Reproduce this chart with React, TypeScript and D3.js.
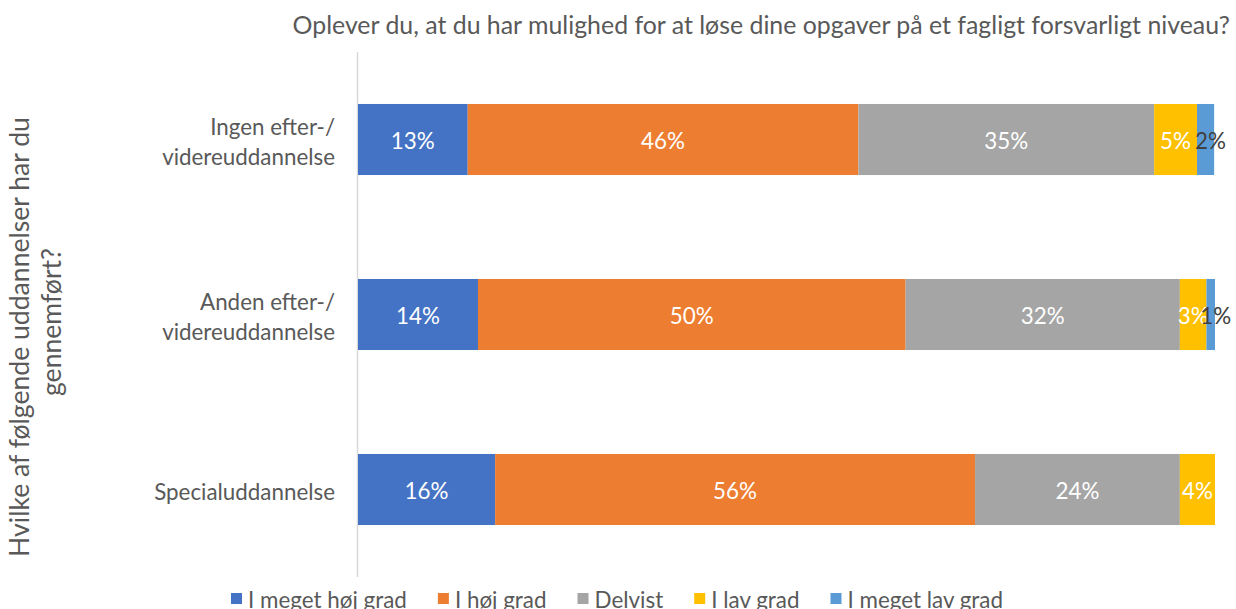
import React, { useRef, useEffect } from "react";
import * as d3 from "d3";

// categories (multi-line labels) and series
const categories = ["Ingen", "Anden", "Special"];
const categoryLines: string[][] = [
  ["Ingen efter-/", "videreuddannelse"],
  ["Anden efter-/", "videreuddannelse"],
  ["Specialuddannelse"],
];
const seriesNames = ["I meget høj grad", "I høj grad", "Delvist", "I lav grad", "I meget lav grad"];
const seriesColors = ["#4472C4", "#ED7D31", "#A5A5A5", "#FFC000", "#5B9BD5"];

// percentages per series, one value per category
const megetHojGrad = [12.8, 14.0, 16.0];
const hojGrad = [45.6, 49.9, 56.0];
const delvist = [34.5, 32.0, 23.9];
const lavGrad = [5.0, 3.1, 4.1];
const megetLavGrad = [2.0, 1.0, 0];

const title = "Oplever du, at du har mulighed for at løse dine opgaver på et fagligt forsvarligt niveau?";
const yTitleLines = ["Hvilke af følgende uddannelser har du", "gennemført?"];

const FONT = "Lato, 'Open Sans', sans-serif";
const TEXT = "#595959";

export default function App() {
  const svgRef = useRef<SVGSVGElement | null>(null);

  useEffect(() => {
    const W = 1236;
    const H = 609;
    const svg = d3.select(svgRef.current);
    svg.selectAll("*").remove();
    svg.attr("width", W).attr("height", H);

    // fit a text element's font size so its width matches a target
    const fit = (sel: d3.Selection<SVGTextElement, unknown, null, undefined>, target: number) => {
      const node = sel.node();
      if (!node) return 16;
      const w = node.getComputedTextLength();
      const fs = parseFloat(sel.attr("font-size"));
      const nfs = w > 0 ? (fs * target) / w : fs;
      sel.attr("font-size", nfs);
      return nfs;
    };

    const allSeries = [megetHojGrad, hojGrad, delvist, lavGrad, megetLavGrad];
    const rows = categories.map((c, i) => {
      const r: Record<string, number | string> = { cat: c };
      seriesNames.forEach((s, j) => (r[s] = allSeries[j][i]));
      return r;
    });
    const stacked = d3.stack<Record<string, number | string>>().keys(seriesNames)(rows as any);

    const x = d3.scaleLinear().domain([0, 100]).range([358, 1215]);
    const y = d3
      .scaleBand<string>()
      .domain(categories)
      .range([52, 577])
      .paddingInner(0.594)
      .paddingOuter(0.297);

    // title
    const t = svg
      .append("text")
      .attr("x", 1230)
      .attr("y", 34)
      .attr("text-anchor", "end")
      .attr("font-family", FONT)
      .attr("font-size", 20)
      .attr("fill", TEXT)
      .text(title);
    fit(t, 938);

    // y axis title (rotated, two lines)
    const yl1 = svg
      .append("text")
      .attr("transform", "translate(29,337) rotate(-90)")
      .attr("text-anchor", "middle")
      .attr("font-family", FONT)
      .attr("font-size", 20)
      .attr("fill", TEXT)
      .text(yTitleLines[0]);
    const yfs = fit(yl1, 440);
    svg
      .append("text")
      .attr("transform", "translate(61,322) rotate(-90)")
      .attr("text-anchor", "middle")
      .attr("font-family", FONT)
      .attr("font-size", yfs)
      .attr("fill", TEXT)
      .text(yTitleLines[1]);

    // category labels
    const probe = svg
      .append("text")
      .attr("font-family", FONT)
      .attr("font-size", 18)
      .text("videreuddannelse");
    const cfs = fit(probe, 173);
    probe.remove();
    categories.forEach((c, i) => {
      const lines = categoryLines[i];
      const cy = (y(c) ?? 0) + y.bandwidth() / 2;
      const lh = 30;
      lines.forEach((ln, k) => {
        svg
          .append("text")
          .attr("x", 335)
          .attr("y", cy + (k - (lines.length - 1) / 2) * lh + 2)
          .attr("text-anchor", "end")
          .attr("dominant-baseline", "central")
          .attr("font-family", FONT)
          .attr("font-size", cfs)
          .attr("fill", TEXT)
          .text(ln);
      });
    });

    // axis line
    svg
      .append("line")
      .attr("x1", x(0) - 0.5)
      .attr("x2", x(0) - 0.5)
      .attr("y1", 52)
      .attr("y2", 577)
      .attr("stroke", "#D9D9D9")
      .attr("stroke-width", 1.5);

    // bars
    const lprobe = svg
      .append("text")
      .attr("font-family", FONT)
      .attr("font-size", 18)
      .text("46%");
    const lfs = fit(lprobe, 44);
    lprobe.remove();

    stacked.forEach((layer, j) => {
      const g = svg.append("g");
      layer.forEach((d, i) => {
        const v = d[1] - d[0];
        if (v <= 0) return;
        const cat = categories[i];
        g.append("rect")
          .attr("x", x(d[0]))
          .attr("y", y(cat) ?? 0)
          .attr("width", x(d[1]) - x(d[0]))
          .attr("height", y.bandwidth())
          .attr("fill", seriesColors[j]);
        // the narrow last segment's label sits a little to the right, as in the original
        const lx = (x(d[0]) + x(d[1])) / 2 + (j === 4 ? 5 : 0);
        g.append("text")
          .attr("x", lx)
          .attr("y", (y(cat) ?? 0) + y.bandwidth() / 2 + 1)
          .attr("text-anchor", "middle")
          .attr("dominant-baseline", "central")
          .attr("font-family", FONT)
          .attr("font-size", lfs)
          .attr("fill", j === 4 ? "#404040" : "#FFFFFF")
          .text(`${Math.round(v)}%`);
      });
    });

    // legend
    const leg = svg.append("g");
    const items = seriesNames.map((s, j) => {
      const gi = leg.append("g");
      gi.append("rect")
        .attr("x", 0)
        .attr("y", 593)
        .attr("width", 11)
        .attr("height", 11)
        .attr("fill", seriesColors[j]);
      const tx = gi
        .append("text")
        .attr("x", 17)
        .attr("y", 608)
        .attr("font-family", FONT)
        .attr("font-size", 20)
        .attr("fill", TEXT)
        .text(s);
      return { gi, tx };
    });
    const legFs = fit(items[0].tx, 159);
    items.forEach((it) => it.tx.attr("font-size", legFs));
    const widths = items.map((it) => 17 + (it.tx.node()?.getComputedTextLength() ?? 0));
    const gap = 31;
    const total = d3.sum(widths) + gap * (widths.length - 1);
    let cx = 617 - total / 2;
    items.forEach((it, j) => {
      it.gi.attr("transform", `translate(${cx},0)`);
      cx += widths[j] + gap;
    });
  }, []);

  return (
    <svg
      ref={svgRef}
      style={{ position: "absolute", left: 0, top: 0, background: "#fff" }}
    />
  );
}
